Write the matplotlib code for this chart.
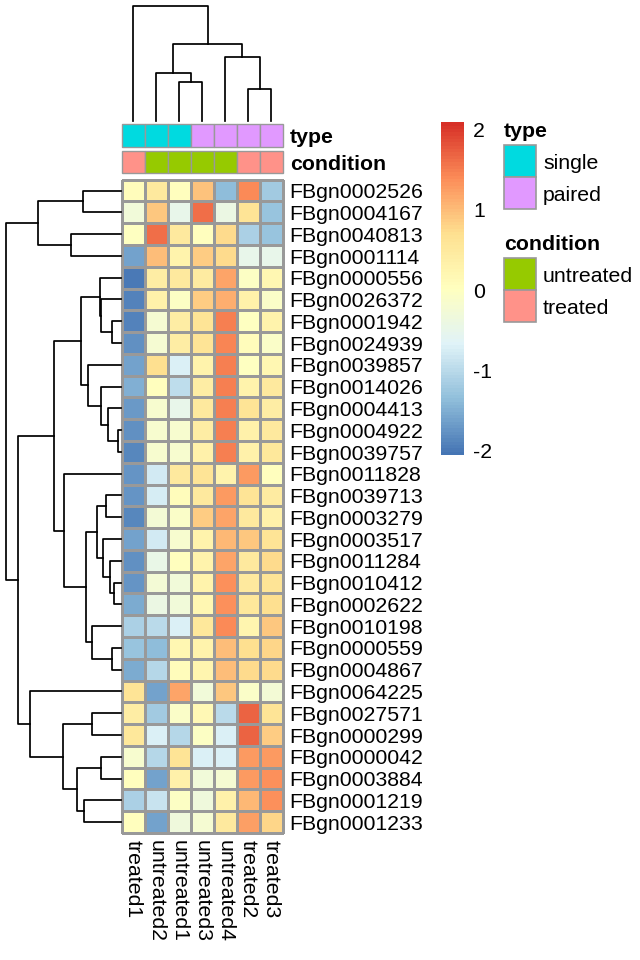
import numpy as np
import matplotlib
matplotlib.use("Agg")
import matplotlib.pyplot as plt
import matplotlib.transforms as mtransforms
from matplotlib.cm import ScalarMappable
from matplotlib.colors import LinearSegmentedColormap, Normalize
from matplotlib.patches import Rectangle

plt.rcParams["font.family"] = ["Liberation Sans", "DejaVu Sans"]
plt.rcParams["axes.unicode_minus"] = False

genes = [
    "FBgn0002526", "FBgn0004167", "FBgn0040813", "FBgn0001114", "FBgn0000556",
    "FBgn0026372", "FBgn0001942", "FBgn0024939", "FBgn0039857", "FBgn0014026",
    "FBgn0004413", "FBgn0004922", "FBgn0039757", "FBgn0011828", "FBgn0039713",
    "FBgn0003279", "FBgn0003517", "FBgn0011284", "FBgn0010412", "FBgn0002622",
    "FBgn0010198", "FBgn0000559", "FBgn0004867", "FBgn0064225", "FBgn0027571",
    "FBgn0000299", "FBgn0000042", "FBgn0003884", "FBgn0001219", "FBgn0001233",
]
samples = ["treated1", "untreated2", "untreated1", "untreated3", "untreated4", "treated2", "treated3"]
sample_type = ["single", "single", "single", "paired", "paired", "paired", "paired"]
sample_condition = ["treated", "untreated", "untreated", "untreated", "untreated", "treated", "treated"]

# row-scaled expression (z-scores), rows in dendrogram order
values = np.array([
    [0.10, 0.50, 0.05, 0.95, -1.35, 1.40, -1.20],
    [-0.30, 0.90, -0.50, 1.60, -0.40, 0.60, -1.30],
    [0.00, 1.60, 0.50, 0.05, 0.75, -1.10, -1.30],
    [-1.60, 1.00, 0.30, 0.85, 0.75, -0.50, -0.50],
    [-2.00, 0.40, 0.50, 0.45, 1.20, -0.05, 0.20],
    [-1.90, 0.35, -0.05, 0.85, 1.10, 0.35, -0.10],
    [-1.90, -0.20, 0.40, 0.60, 1.50, 0.00, 0.30],
    [-1.80, -0.20, 0.40, 0.60, 1.45, 0.10, -0.10],
    [-1.60, 0.70, -0.70, 0.30, 1.50, 0.00, 0.20],
    [-1.50, 0.05, -0.95, 0.40, 1.50, 0.30, 0.50],
    [-1.70, -0.15, -0.50, 0.50, 1.50, 0.60, 0.40],
    [-1.80, -0.15, -0.15, 0.40, 1.50, 0.35, 0.50],
    [-1.85, -0.15, -0.15, 0.35, 1.50, 0.35, 0.55],
    [-1.75, -0.80, 0.50, 0.60, 0.30, 1.30, 0.05],
    [-1.75, -0.75, 0.10, 0.50, 1.30, 0.60, 0.45],
    [-1.85, -0.25, -0.10, 0.85, 1.20, 0.50, 0.35],
    [-1.60, -0.80, -0.15, 0.30, 1.05, 0.90, 0.60],
    [-1.80, -0.45, 0.05, 0.30, 1.20, 0.50, 0.75],
    [-1.75, -0.25, -0.30, 0.30, 1.35, 0.50, 0.60],
    [-1.55, -0.40, -0.30, 0.20, 1.35, 0.55, 0.70],
    [-1.10, -1.00, -0.70, 0.55, 1.40, 0.25, 0.90],
    [-1.30, -1.35, 0.20, 0.30, 1.00, 0.70, 0.80],
    [-1.55, -1.05, 0.10, 0.25, 1.00, 0.75, 0.75],
    [0.60, -1.60, 1.20, -0.30, 0.90, -0.10, -0.25],
    [0.40, -1.20, -0.10, 0.15, -1.00, 1.70, 0.60],
    [0.55, -0.70, -1.05, -0.05, -0.70, 1.70, 0.85],
    [-0.15, -1.05, 0.60, -0.70, -0.70, 1.30, 1.30],
    [0.05, -1.60, 0.35, -0.30, -0.20, 1.30, 1.35],
    [-1.10, -0.85, -0.05, -0.35, 0.35, 1.05, 1.35],
    [0.05, -1.60, -0.35, -0.20, 0.50, 1.25, 0.80],
])

# row clustering: merges of (a, b) at height h; new node ids start at len(genes)
row_merge_a = [11, 10, 9, 8, 6, 5, 4, 36, 14, 18, 17, 16, 38, 21, 20, 42, 13, 37, 24, 26, 28, 49, 48, 23, 47, 0, 2, 55, 57]
row_merge_b = [12, 30, 31, 32, 7, 34, 35, 33, 15, 19, 39, 40, 41, 22, 43, 44, 45, 46, 25, 27, 29, 50, 51, 52, 53, 1, 3, 56, 54]
row_merge_h = [3.3, 12.7, 20.3, 32.7, 9.3, 20.0, 21.0, 40.0, 15.3, 7.3, 11.0, 18.3, 24.3, 9.3, 28.7,
               35.3, 56.7, 66.7, 28.7, 20.0, 36.7, 43.7, 57.7, 91.0, 102.7, 38.3, 50.0, 82.7, 115.3]

# column clustering
col_merge_a = [2, 1, 5, 4, 8, 0]
col_merge_b = [3, 7, 6, 9, 10, 11]
col_merge_h = [39.0, 48.0, 32.0, 64.0, 77.0, 115.3]

type_levels = ["single", "paired"]
type_colors = ["#00DAE0", "#E199FF"]
condition_levels = ["untreated", "treated"]
condition_colors = ["#96CA00", "#FF9289"]

heat_colors = ["#4575B4", "#91BFDB", "#E0F3F8", "#FFFFBF", "#FEE090", "#FC8D59", "#D73027"]
cmap = LinearSegmentedColormap.from_list("rdylbu_rev", heat_colors, N=100)
norm = Normalize(vmin=-2.05, vmax=2.09)

GRID = "#999999"
FS = 15.3
W, H = 640, 960

fig = plt.figure(figsize=(W / 100, H / 100), dpi=100)


def px_axes(x0, y0, x1, y1):
    ax = fig.add_axes([x0 / W, 1 - y1 / H, (x1 - x0) / W, (y1 - y0) / H])
    ax.axis("off")
    return ax


def shifted(ax, dx, dy):
    return mtransforms.offset_copy(ax.transData, fig=fig, x=dx, y=-dy, units="dots")


def draw_dendrogram(ax, merge_a, merge_b, merge_h, n_leaves, vertical):
    pos = {i: i + 0.5 for i in range(n_leaves)}
    hgt = {i: 0.0 for i in range(n_leaves)}
    for k, (a, b, h) in enumerate(zip(merge_a, merge_b, merge_h)):
        p = [pos[a], pos[a], pos[b], pos[b]]
        q = [hgt[a], h, h, hgt[b]]
        if vertical:
            ax.plot(p, q, color="black", lw=1.25, clip_on=False)
        else:
            ax.plot(q, p, color="black", lw=1.25, clip_on=False)
        pos[n_leaves + k] = (pos[a] + pos[b]) / 2
        hgt[n_leaves + k] = h


nrow, ncol = values.shape

# heatmap
ax = px_axes(121.7, 179.7, 282.7, 833)
mesh = ax.pcolormesh(np.arange(ncol + 1), np.arange(nrow + 1), values, cmap=cmap, norm=norm,
                     edgecolors=GRID, linewidth=1.0)
mesh.set_clip_on(False)
ax.set_xlim(0, ncol)
ax.set_ylim(nrow, 0)
lab_tr = shifted(ax, 7, 7.6)
for i, g in enumerate(genes):
    ax.text(ncol, i + 0.5, g, transform=lab_tr, fontsize=FS, ha="left", va="baseline")
for j, s in enumerate(samples):
    ax.text(j + 0.5, nrow, s, transform=shifted(ax, 0, 7), fontsize=FS, rotation=270,
            ha="center", va="top")

# annotation bars
for (y0, y1), name, vals, levels, colors in [
    ((124, 146.7), "type", sample_type, type_levels, type_colors),
    ((150.7, 173.3), "condition", sample_condition, condition_levels, condition_colors),
]:
    aax = px_axes(121.7, y0, 282.7, y1)
    aax.bar(np.arange(ncol) + 0.5, 1, width=1, color=[colors[levels.index(v)] for v in vals],
            edgecolor=GRID, linewidth=1.0, clip_on=False)
    aax.set_xlim(0, ncol)
    aax.set_ylim(1, 0)
    aax.text(ncol, 0.5, name, transform=shifted(aax, 7, 7.6), fontsize=FS,
             fontweight="bold", ha="left", va="baseline")

# dendrograms
dax = px_axes(121.7, 0, 282.7, 121)
draw_dendrogram(dax, col_merge_a, col_merge_b, col_merge_h, ncol, vertical=True)
dax.set_xlim(0, ncol)
dax.set_ylim(0, 121)

rax = px_axes(0, 179.7, 121, 833)
draw_dendrogram(rax, row_merge_a, row_merge_b, row_merge_h, nrow, vertical=False)
rax.set_xlim(121, 0)
rax.set_ylim(nrow, 0)

# colour key
cax = fig.add_axes([441 / W, 1 - 455 / H, 23 / W, (455 - 122.3) / H])
cb = fig.colorbar(ScalarMappable(norm=norm, cmap=cmap), cax=cax, ticks=[-2, -1, 0, 1, 2])
cb.outline.set_visible(False)
cax.tick_params(length=0, labelsize=FS, pad=6.5)

# annotation legend
lax = px_axes(490, 110, 640, 340)
lax.set_xlim(490, 640)
lax.set_ylim(340, 110)
y = 136.7
for title, levels, colors in [("type", type_levels, type_colors),
                              ("condition", condition_levels, condition_colors)]:
    lax.text(504, y, title, fontsize=FS, fontweight="bold", ha="left", va="baseline")
    top = y + 8.5
    for k, (lev, col) in enumerate(zip(levels, colors)):
        lax.add_patch(Rectangle((504, top + k * 32), 32, 32, facecolor=col, edgecolor=GRID,
                                linewidth=1.2, clip_on=False))
        lax.text(543, top + k * 32 + 16 + 7.4, lev, fontsize=FS, ha="left", va="baseline")
    y = top + len(levels) * 32 + 40.5

fig.savefig("out.png", dpi=100)
